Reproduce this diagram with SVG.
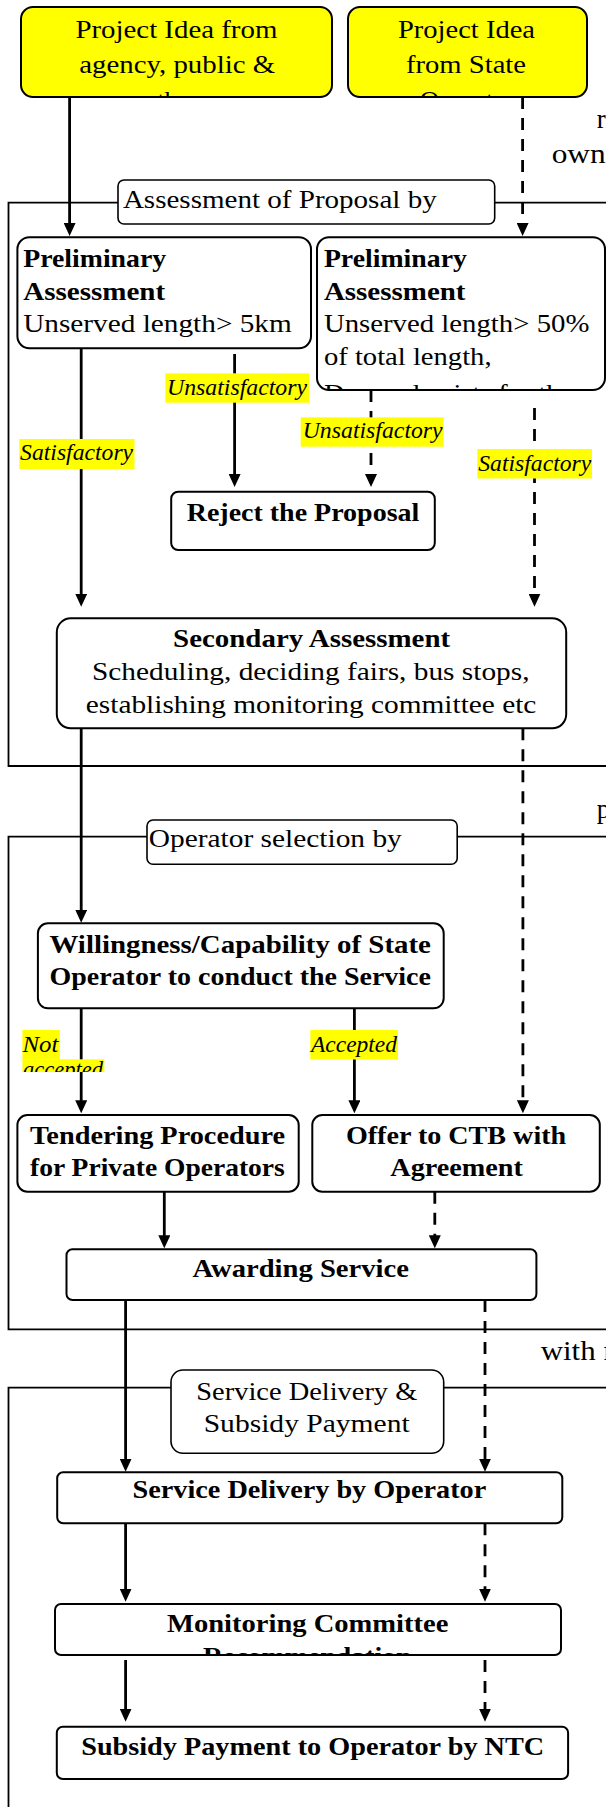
<svg xmlns="http://www.w3.org/2000/svg" width="606" height="1807" viewBox="0 0 606 1807">
<defs>
<style>
.box{fill:#fff;stroke:#000;stroke-width:2}
.ybox{fill:#ffff00;stroke:#000;stroke-width:2}
.frame{fill:none;stroke:#000;stroke-width:1.8}
.t{font-family:"Liberation Serif","Times New Roman",serif;font-size:26px;fill:#000}
.b{font-weight:bold}
.it{font-family:"Liberation Serif","Times New Roman",serif;font-size:23px;font-style:italic;fill:#000}
.out{font-family:"Liberation Serif","Times New Roman",serif;font-size:27px;fill:#000}
.hl{fill:#ffff00}
.c{fill:none;stroke:#000;stroke-width:2.8;marker-end:url(#ah)}
.d{stroke-dasharray:12 9}
</style>
<marker id="ah" viewBox="0 0 13 12" refX="9" refY="6" markerWidth="13" markerHeight="12" markerUnits="userSpaceOnUse" orient="auto">
<path d="M0,0 L13,6 L0,12 z" fill="#000"/>
</marker>
<clipPath id="cp-y1"><rect x="21" y="7" width="311" height="90" rx="12"/></clipPath>
<clipPath id="cp-y2"><rect x="348" y="7" width="239" height="90" rx="12"/></clipPath>
<clipPath id="cp-pa2"><rect x="317" y="237" width="288" height="153" rx="12"/></clipPath>
<clipPath id="cp-mon"><rect x="55" y="1604" width="506" height="51" rx="6"/></clipPath>
<clipPath id="cp-na"><rect x="0" y="1020" width="130" height="52"/></clipPath>
</defs>

<g id="frames">
<path class="frame" d="M118,202.7 H8.5 V766 H610 M494.7,202.7 H610"/>
<path class="frame" d="M147,836.7 H8.5 V1329.3 H610 M457.2,836.7 H610"/>
<path class="frame" d="M171,1387.7 H8.5 V1810 M443.7,1387.7 H610"/>
</g>

<g id="frame-labels">
<g id="lbl-assessment">
<rect class="box" x="118" y="180" width="376.7" height="44" rx="6" style="stroke-width:1.6"/>
<text class="t" x="122.9" y="208.3" textLength="313.8" lengthAdjust="spacingAndGlyphs">Assessment of Proposal by</text>
</g>
<g id="lbl-operator-selection">
<rect class="box" x="147" y="820" width="310.2" height="44.3" rx="6" style="stroke-width:1.6"/>
<text class="t" x="148.8" y="847.3" textLength="253" lengthAdjust="spacingAndGlyphs">Operator selection by</text>
</g>
<g id="lbl-service-delivery">
<rect class="box" x="171" y="1370" width="272.7" height="83.3" rx="12" style="stroke-width:1.6"/>
<text class="t" x="196.3" y="1400" textLength="221" lengthAdjust="spacingAndGlyphs">Service Delivery &amp;</text>
<text class="t" x="203.7" y="1431.7" textLength="206" lengthAdjust="spacingAndGlyphs">Subsidy Payment</text>
</g>
<g id="outside-text">
<text class="out" x="596.7" y="128.3">r</text>
<text class="out" x="551.7" y="163.3" textLength="54" lengthAdjust="spacingAndGlyphs">own</text>
<text class="out" x="596.7" y="818">p</text>
<text class="out" x="540.7" y="1360" textLength="73" lengthAdjust="spacingAndGlyphs">with r</text>
</g>
</g>

<g id="connectors">
<path class="c" d="M69.6,97 V232"/>
<path class="c d" d="M522.6,97 V232"/>
<path class="c" d="M81.2,348.3 V602.7"/>
<path class="c" d="M234.6,354 V483"/>
<path class="c d" d="M371,390 V483"/>
<path class="c d" d="M534.5,408 V602.7"/>
<path class="c" d="M81.2,728.3 V918.7"/>
<path class="c d" d="M522.9,728.3 V1109.3"/>
<path class="c" d="M81.2,1008.3 V1109.3"/>
<path class="c" d="M354.4,1008.3 V1109.3"/>
<path class="c" d="M164.3,1191.7 V1244.3"/>
<path class="c d" d="M434.8,1191.7 V1244.3"/>
<path class="c" d="M125.6,1300 V1467.7"/>
<path class="c d" d="M485,1300 V1467.7"/>
<path class="c" d="M125.6,1523.3 V1597.7"/>
<path class="c d" d="M485,1523.3 V1597.7"/>
<path class="c" d="M125.6,1660 V1717.7"/>
<path class="c d" d="M485,1660 V1717.7"/>
</g>

<g id="edge-labels">
<g id="el-sat1"><rect class="hl" x="19.3" y="439" width="115.2" height="30"/><text class="it" x="20.1" y="460" textLength="113" lengthAdjust="spacingAndGlyphs">Satisfactory</text></g>
<g id="el-unsat1"><rect class="hl" x="165.4" y="373.3" width="143.8" height="29.4"/><text class="it" x="167" y="395" textLength="140" lengthAdjust="spacingAndGlyphs">Unsatisfactory</text></g>
<g id="el-unsat2"><rect class="hl" x="300.7" y="417.3" width="143" height="29.4"/><text class="it" x="302.7" y="438.3" textLength="140" lengthAdjust="spacingAndGlyphs">Unsatisfactory</text></g>
<g id="el-sat2"><rect class="hl" x="477.3" y="449" width="114.7" height="29.5"/><text class="it" x="478.3" y="470.7" textLength="113" lengthAdjust="spacingAndGlyphs">Satisfactory</text></g>
<g id="el-notaccepted" clip-path="url(#cp-na)">
<rect class="hl" x="22.4" y="1030" width="37.5" height="29.5"/>
<rect class="hl" x="22.4" y="1059.3" width="81.9" height="26"/>
<text class="it" x="22.4" y="1051.7" textLength="36" lengthAdjust="spacingAndGlyphs">Not</text>
<text class="it" x="23" y="1077" textLength="80" lengthAdjust="spacingAndGlyphs">accepted</text>
</g>
<g id="el-accepted"><rect class="hl" x="310.3" y="1030" width="87.7" height="29.5"/><text class="it" x="311" y="1051.7" textLength="86" lengthAdjust="spacingAndGlyphs">Accepted</text></g>
</g>

<g id="node-idea-agency">
<rect class="ybox" x="21" y="7" width="311" height="90" rx="12"/>
<g clip-path="url(#cp-y1)">
<text class="t" x="75.4" y="38.3" textLength="202" lengthAdjust="spacingAndGlyphs">Project Idea from</text>
<text class="t" x="79.2" y="72.7" textLength="196" lengthAdjust="spacingAndGlyphs">agency, public &amp;</text>
<text class="t" x="176" y="109" text-anchor="middle">others</text>
</g>
</g>
<g id="node-idea-state">
<rect class="ybox" x="348" y="7" width="239" height="90" rx="12"/>
<g clip-path="url(#cp-y2)">
<text class="t" x="398" y="38.3" textLength="137" lengthAdjust="spacingAndGlyphs">Project Idea</text>
<text class="t" x="406" y="72.7" textLength="120" lengthAdjust="spacingAndGlyphs">from State</text>
<text class="t" x="419.7" y="109" textLength="96" lengthAdjust="spacingAndGlyphs">Operator</text>
</g>
</g>

<g id="node-prelim-1">
<rect class="box" x="17.4" y="237.3" width="293.6" height="111" rx="12"/>
<text class="t b" x="23.2" y="266.7" textLength="143" lengthAdjust="spacingAndGlyphs">Preliminary</text>
<text class="t b" x="23.2" y="300" textLength="142" lengthAdjust="spacingAndGlyphs">Assessment</text>
<text class="t" x="23.2" y="331.7" textLength="268.6" lengthAdjust="spacingAndGlyphs">Unserved length&gt; 5km</text>
</g>
<g id="node-prelim-2">
<rect class="box" x="317" y="237.3" width="288" height="152.7" rx="12"/>
<g clip-path="url(#cp-pa2)">
<text class="t b" x="323.9" y="266.7" textLength="143" lengthAdjust="spacingAndGlyphs">Preliminary</text>
<text class="t b" x="323.9" y="300" textLength="141.6" lengthAdjust="spacingAndGlyphs">Assessment</text>
<text class="t" x="323.9" y="331.7" textLength="265.5" lengthAdjust="spacingAndGlyphs">Unserved length&gt; 50%</text>
<text class="t" x="323.9" y="365" textLength="167.7" lengthAdjust="spacingAndGlyphs">of total length,</text>
<text class="t" x="323.9" y="402" textLength="249" lengthAdjust="spacingAndGlyphs">Demand exists for the</text>
</g>
</g>

<g id="node-reject">
<rect class="box" x="171.2" y="491.7" width="263.6" height="58.3" rx="7"/>
<text class="t b" x="186.7" y="520.7" textLength="232.6" lengthAdjust="spacingAndGlyphs">Reject the Proposal</text>
</g>

<g id="node-secondary">
<rect class="box" x="56.8" y="618.3" width="509.4" height="110" rx="14"/>
<text class="t b" x="173.1" y="646.7" textLength="277" lengthAdjust="spacingAndGlyphs">Secondary Assessment</text>
<text class="t" x="92" y="680" textLength="437.5" lengthAdjust="spacingAndGlyphs">Scheduling, deciding fairs, bus stops,</text>
<text class="t" x="85.8" y="712.7" textLength="450.6" lengthAdjust="spacingAndGlyphs">establishing monitoring committee etc</text>
</g>

<g id="node-willingness">
<rect class="box" x="37.9" y="923.3" width="405.8" height="85" rx="10"/>
<text class="t b" x="49.5" y="952.7" textLength="381.4" lengthAdjust="spacingAndGlyphs">Willingness/Capability of State</text>
<text class="t b" x="49.5" y="985" textLength="381.4" lengthAdjust="spacingAndGlyphs">Operator to conduct the Service</text>
</g>

<g id="node-tendering">
<rect class="box" x="17.4" y="1115" width="281.3" height="76.7" rx="10"/>
<text class="t b" x="30.1" y="1144" textLength="255" lengthAdjust="spacingAndGlyphs">Tendering Procedure</text>
<text class="t b" x="30.1" y="1176" textLength="254.7" lengthAdjust="spacingAndGlyphs">for Private Operators</text>
</g>

<g id="node-offer">
<rect class="box" x="312.3" y="1115" width="287.5" height="76.7" rx="10"/>
<text class="t b" x="345.9" y="1144" textLength="220.3" lengthAdjust="spacingAndGlyphs">Offer to CTB with</text>
<text class="t b" x="390.3" y="1176" textLength="132.6" lengthAdjust="spacingAndGlyphs">Agreement</text>
</g>

<g id="node-awarding">
<rect class="box" x="66.5" y="1249.3" width="469.9" height="50.7" rx="6"/>
<text class="t b" x="192.5" y="1276.7" textLength="216.4" lengthAdjust="spacingAndGlyphs">Awarding Service</text>
</g>

<g id="node-service-delivery">
<rect class="box" x="57.2" y="1472.3" width="505.1" height="51" rx="6"/>
<text class="t b" x="132.6" y="1498.3" textLength="353.6" lengthAdjust="spacingAndGlyphs">Service Delivery by Operator</text>
</g>

<g id="node-monitoring">
<rect class="box" x="55" y="1604" width="506" height="51" rx="6"/>
<g clip-path="url(#cp-mon)">
<text class="t b" x="167" y="1631.7" textLength="281.4" lengthAdjust="spacingAndGlyphs">Monitoring Committee</text>
<text class="t b" x="203" y="1664.7" textLength="208.6" lengthAdjust="spacingAndGlyphs">Recommendation</text>
</g>
</g>

<g id="node-subsidy">
<rect class="box" x="56.8" y="1726.7" width="511.3" height="52.3" rx="6"/>
<text class="t b" x="81.2" y="1755" textLength="463" lengthAdjust="spacingAndGlyphs">Subsidy Payment to Operator by NTC</text>
</g>
</svg>
